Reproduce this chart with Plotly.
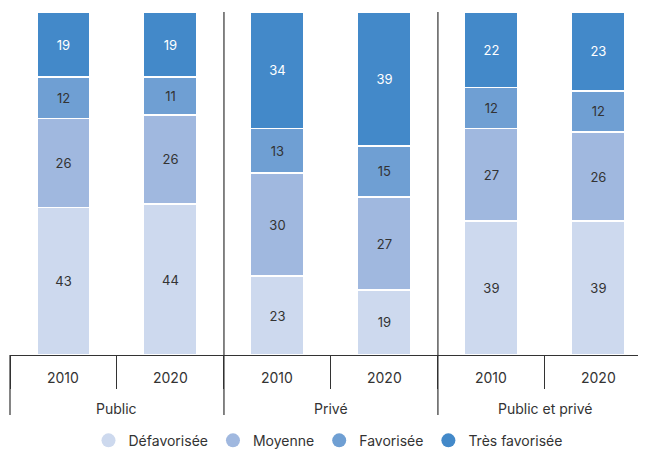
import plotly.graph_objects as go

# Données (en %)
secteurs = ["Public", "Public", "Privé", "Privé", "Public et privé", "Public et privé"]
annees = ["2010", "2020", "2010", "2020", "2010", "2020"]
groupes = ["Public", "Privé", "Public et privé"]
defavorisee = [43, 44, 23, 19, 39, 39]
moyenne = [26, 26, 30, 27, 27, 26]
favorisee = [12, 11, 13, 15, 12, 12]
tres_favorisee = [19, 19, 34, 39, 22, 23]

series = [
    ("Défavorisée", defavorisee, "#cdd9ee", "#333333"),
    ("Moyenne", moyenne, "#a0b8df", "#333333"),
    ("Favorisée", favorisee, "#6f9fd3", "#333333"),
    ("Très favorisée", tres_favorisee, "#4389c9", "#ffffff"),
]

police = "Inter, Noto Sans, sans-serif"
gris = "#333333"

# la dernière colonne est un peu rognée à droite dans l'original
x_min, x_max = -0.5, 5.445
etendue = x_max - x_min


def papier(xc):
    return (xc - x_min) / etendue


fig = go.Figure()
for nom, valeurs, couleur, couleur_texte in series:
    fig.add_trace(go.Bar(
        x=[secteurs, annees], y=valeurs, name=nom,
        marker=dict(color=couleur, line=dict(color="white", width=1.5)),
        text=valeurs, textposition="inside", insidetextanchor="middle",
        textfont=dict(color=couleur_texte, size=13, family=police),
        width=0.5, showlegend=False, hoverinfo="skip",
    ))
    # puces rondes pour la légende
    fig.add_trace(go.Scatter(
        x=[None], y=[None], mode="markers", name=nom,
        marker=dict(color=couleur, size=14, symbol="circle"),
    ))

# séparateurs verticaux entre les secteurs (jusque sous les libellés)
bas = -0.175
for i in range(len(groupes)):
    xp = papier(2 * i - 0.5)
    fig.add_shape(type="line", xref="paper", yref="paper",
                  x0=xp, x1=xp, y0=0 if i == 0 else 1, y1=bas,
                  line=dict(color=gris, width=1.2))

# libellés des années et des secteurs
for i, a in enumerate(annees):
    fig.add_annotation(text=a, xref="paper", yref="paper",
                       x=papier(i), y=-0.067,
                       xanchor="center", yanchor="middle",
                       showarrow=False, font=dict(size=14, color=gris))
for i, g in enumerate(groupes):
    fig.add_annotation(text=g, xref="paper", yref="paper",
                       x=papier(2 * i + 0.5), y=-0.155,
                       xanchor="center", yanchor="middle",
                       showarrow=False, font=dict(size=14, color=gris))

# la page ajoute une marge de 8 px autour du graphique
fig.update_layout(
    barmode="stack",
    width=638, height=441,
    margin=dict(l=2, r=0, t=4, b=94, autoexpand=False),
    plot_bgcolor="white", paper_bgcolor="white",
    font=dict(family=police, size=14, color=gris),
    bargap=0.5,
    xaxis=dict(
        type="multicategory", range=[x_min, x_max],
        showline=True, linecolor=gris, linewidth=1.2,
        ticks="outside", ticklen=33, tickcolor=gris, tickwidth=1,
        showticklabels=False, showdividers=False,
        showgrid=False, automargin=False,
    ),
    yaxis=dict(range=[0, 100], visible=False, showgrid=False),
    legend=dict(
        orientation="h", x=0.5, xanchor="center", y=-0.25, yanchor="middle",
        font=dict(size=14, color=gris), traceorder="normal",
        itemwidth=30, tracegroupgap=0,
    ),
)

fig.write_html("out.html")
